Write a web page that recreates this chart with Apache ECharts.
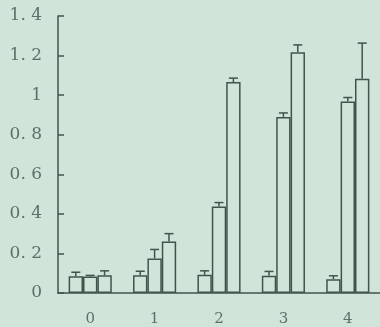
<!DOCTYPE html>
<html>
<head>
<meta charset="utf-8">
<script src="https://cdn.jsdelivr.net/npm/echarts@6/dist/echarts.min.js"></script>
<style>
html,body{margin:0;padding:0;background:#d1e4d9;}
#c{width:380px;height:327px;}
</style>
</head>
<body>
<div id="c"></div>
<script>
var categories = ['0', '1', '2', '3', '4'];
var s1 = [0.085, 0.09, 0.092, 0.087, 0.07];
var s1err = [0.02, 0.02, 0.02, 0.022, 0.017];
var s2 = [0.083, 0.175, 0.437, 0.89, 0.968];
var s2err = [0.006, 0.045, 0.02, 0.02, 0.02];
var s3 = [0.09, 0.26, 1.066, 1.217, 1.083];
var s3err = [0.022, 0.04, 0.02, 0.037, 0.18];
var yTickLabels = ['0', '0. 2', '0. 4', '0. 6', '0. 8', '1', '1. 2', '1. 4'];

var lineColor = '#43534c';
var textColor = '#5f6f68';
var catGap = 0.33;

function barSeries(vals) {
  return {
    type: 'bar',
    data: vals,
    barGap: '0%',
    barCategoryGap: (catGap * 100) + '%',
    itemStyle: { color: 'rgba(0,0,0,0)', borderColor: lineColor, borderWidth: 1.5 },
    emphasis: { disabled: true },
    silent: true
  };
}

function errSeries(vals, errs, idx) {
  var data = vals.map(function (v, i) { return [i, v, errs[i]]; });
  return {
    type: 'custom',
    data: data,
    silent: true,
    z: 5,
    renderItem: function (params, api) {
      var xi = api.value(0), v = api.value(1), e = api.value(2);
      var base = api.coord([xi, v]);
      var top = api.coord([xi, v + e]);
      var band = api.size([1, 0])[0];
      var bw = band * (1 - catGap) / 3;
      var cx = base[0] + (idx - 1) * bw;
      var style = { stroke: lineColor, lineWidth: 1.5, fill: null };
      return {
        type: 'group',
        children: [
          { type: 'line', shape: { x1: cx, y1: base[1], x2: cx, y2: top[1] }, style: style },
          { type: 'line', shape: { x1: cx - 4.5, y1: top[1], x2: cx + 4.5, y2: top[1] }, style: style }
        ]
      };
    }
  };
}

var chart = echarts.init(document.getElementById('c'));
chart.setOption({
  animation: false,
  backgroundColor: '#d1e4d9',
  grid: { left: 58, right: 0, top: 16, bottom: 33, containLabel: false },
  xAxis: {
    type: 'category',
    data: categories,
    axisLine: { lineStyle: { color: lineColor, width: 1.5 } },
    axisTick: { inside: true, length: 5, lineStyle: { color: lineColor, width: 1.5 } },
    axisLabel: { color: textColor, fontFamily: 'DejaVu Serif', fontSize: 15, margin: 19 }
  },
  yAxis: {
    type: 'value',
    min: 0,
    max: 1.4,
    interval: 0.2,
    splitLine: { show: false },
    axisLine: { show: true, lineStyle: { color: lineColor, width: 1.5 } },
    axisTick: { show: true, inside: true, length: 6, lineStyle: { color: lineColor, width: 1.5 } },
    axisLabel: {
      color: textColor, fontFamily: 'DejaVu Serif', fontSize: 17, margin: 16,
      formatter: function (v) { return yTickLabels[Math.round(v / 0.2)]; }
    }
  },
  series: [
    barSeries(s1), barSeries(s2), barSeries(s3),
    errSeries(s1, s1err, 0), errSeries(s2, s2err, 1), errSeries(s3, s3err, 2)
  ]
});
</script>
</body>
</html>
